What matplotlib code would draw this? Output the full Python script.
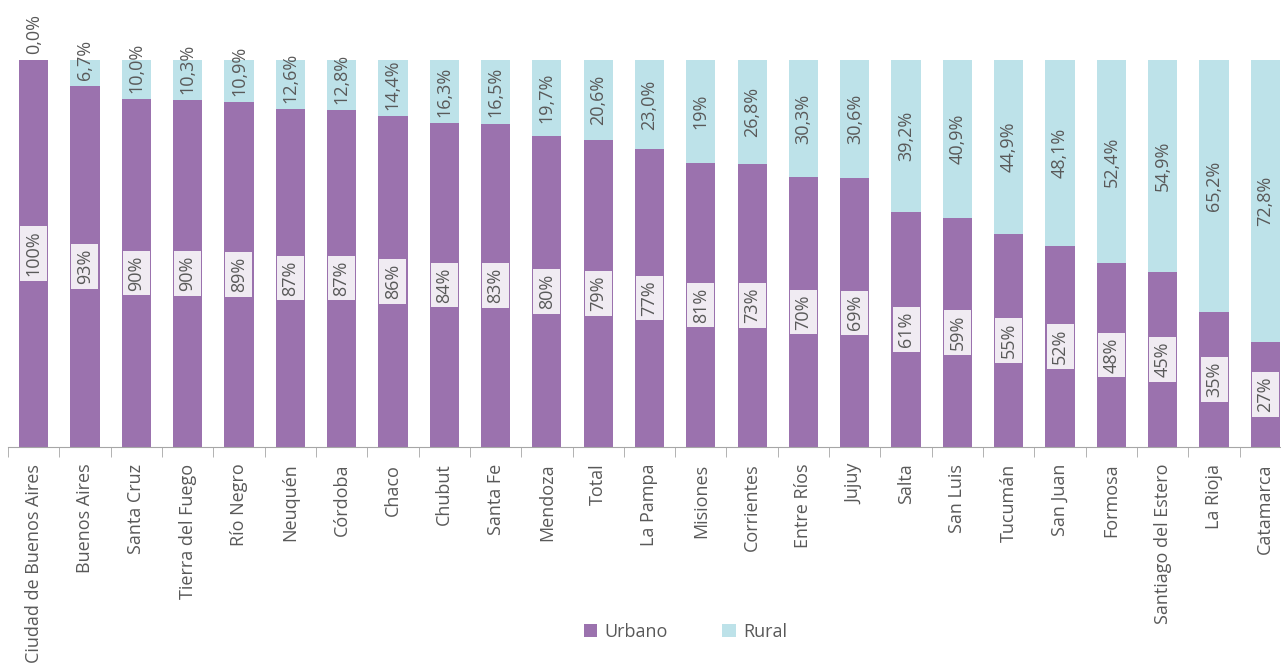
import matplotlib
matplotlib.use("Agg")
import matplotlib.pyplot as plt
import numpy as np

plt.rcParams['font.family'] = ['Open Sans', 'DejaVu Sans']

provincias = ['Ciudad de Buenos Aires', 'Buenos Aires', 'Santa Cruz', 'Tierra del Fuego',
              'Río Negro', 'Neuquén', 'Córdoba', 'Chaco', 'Chubut', 'Santa Fe', 'Mendoza',
              'Total', 'La Pampa', 'Misiones', 'Corrientes', 'Entre Ríos', 'Jujuy', 'Salta',
              'San Luis', 'Tucumán', 'San Juan', 'Formosa', 'Santiago del Estero',
              'La Rioja', 'Catamarca']
# altura de la barra urbana (%)
urbano = [100, 93.3, 90.0, 89.7, 89.1, 87.4, 87.2, 85.6, 83.7, 83.5, 80.3, 79.4, 77.0,
          73.4, 73.2, 69.7, 69.4, 60.8, 59.1, 55.1, 51.9, 47.6, 45.1, 34.8, 27.2]
urbano_txt = ['100%', '93%', '90%', '90%', '89%', '87%', '87%', '86%', '84%', '83%', '80%',
              '79%', '77%', '81%', '73%', '70%', '69%', '61%', '59%', '55%', '52%', '48%',
              '45%', '35%', '27%']
rural_txt = ['0,0%', '6,7%', '10,0%', '10,3%', '10,9%', '12,6%', '12,8%', '14,4%', '16,3%',
             '16,5%', '19,7%', '20,6%', '23,0%', '19%', '26,8%', '30,3%', '30,6%', '39,2%',
             '40,9%', '44,9%', '48,1%', '52,4%', '54,9%', '65,2%', '72,8%']

c_urb = '#9B72AE'
c_rur = '#BDE2E9'
gris = '#595959'
fs = 13

urb = np.array(urbano)
rur = 100 - urb
x = np.arange(len(provincias))

fig = plt.figure(figsize=(12.81, 6.71), dpi=100)
ax = fig.add_axes([8 / 1281, 1 - 447 / 671, 1283 / 1281, 387 / 671])

ax.bar(x, urb, 0.57, color=c_urb, label='Urbano')
ax.bar(x, rur, 0.57, bottom=urb, color=c_rur, label='Rural')

for i in range(len(x)):
    ax.text(x[i], urb[i] / 2, urbano_txt[i], rotation=90, ha='center', va='center',
            fontsize=fs, color=gris,
            bbox=dict(boxstyle='square,pad=0.25', fc='#F0EBF2', ec='none'))
    if rur[i] > 0:
        # si la etiqueta no cabe en el segmento, se apoya en la base del segmento
        mitad = 2.8 * len(rural_txt[i]) / 2
        y = max(urb[i] + rur[i] / 2, urb[i] + 1 + mitad)
        ax.text(x[i], y, rural_txt[i], rotation=90, ha='center', va='center',
                fontsize=fs, color=gris)
    else:
        ax.text(x[i], 101.5, rural_txt[i], rotation=90, ha='center', va='bottom',
                fontsize=fs, color=gris)

ax.set_xlim(-0.5, len(x) - 0.5)
ax.set_ylim(0, 100)
ax.set_xticks(x)
ax.set_xticklabels(provincias, rotation=90, fontsize=fs, color=gris)
ax.set_xticks(np.arange(len(x) + 1) - 0.5, minor=True)
ax.tick_params(axis='x', which='major', length=0, pad=12)
ax.tick_params(axis='x', which='minor', length=7, color='#A6A6A6')
ax.set_yticks([])
for s in ['top', 'right', 'left']:
    ax.spines[s].set_visible(False)
ax.spines['bottom'].set_color('#A6A6A6')

fig.legend(loc='center', bbox_to_anchor=(0.535, 1 - 632 / 671), ncol=2, frameon=False,
           fontsize=fs, labelcolor=gris, handlelength=0.75, handleheight=0.75,
           columnspacing=3.0, handletextpad=0.4)

plt.savefig('out.png', dpi=100)
